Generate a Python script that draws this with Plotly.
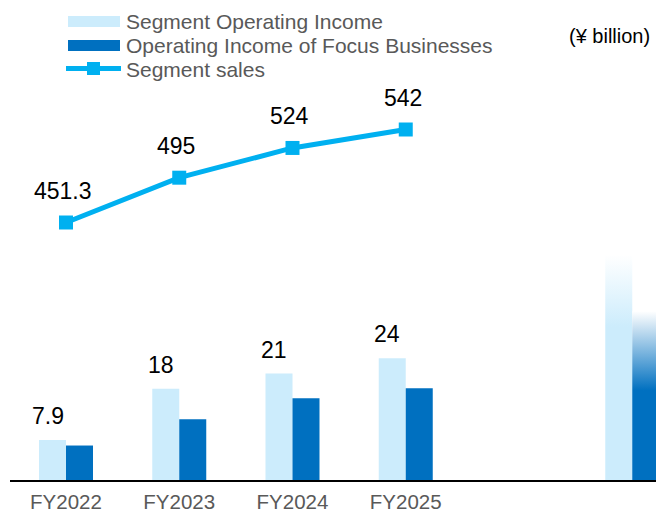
import plotly.graph_objects as go

# ---- data ----
years = ["FY2022", "FY2023", "FY2024", "FY2025"]
segment_oi = [7.9, 18, 21, 24]          # Segment Operating Income
focus_oi = [6.8, 12.0, 16.1, 18.1]      # Operating Income of Focus Businesses
sales = [451.3, 495, 524, 542]          # Segment sales
target_idx = 5                          # faded target column (unlabelled)
target_segment_oi = 44.4
target_focus_oi = 33.3

LIGHT = "#CCECFC"
DARK = "#0070C0"
LINE = "#00B0F0"
GRAY = "#595959"
FONT = "Arial, Liberation Sans, sans-serif"

W, H = 656, 513
ML, MR, MT, MB = 10, 0, 0, 33
PW, PH = W - ML - MR, H - MT - MB
BW = 0.2384  # bar width in category units

idx = list(range(len(years)))

def px_x(p):
    return (p - ML) / PW

def px_y(p):
    return (H - MB - p) / PH

fig = go.Figure()

fig.add_trace(go.Bar(
    x=idx, y=segment_oi, width=BW, offset=-BW, name="Segment Operating Income",
    marker=dict(color=LIGHT, line=dict(width=0)), showlegend=False))
fig.add_trace(go.Bar(
    x=idx, y=focus_oi, width=BW, offset=0, name="Operating Income of Focus Businesses",
    marker=dict(color=DARK, line=dict(width=0)), showlegend=False))

# faded target columns drawn with vertical gradient fills
fig.add_trace(go.Scatter(
    x=[target_idx - BW, target_idx - BW, target_idx, target_idx, target_idx - BW],
    y=[0, target_segment_oi, target_segment_oi, 0, 0],
    mode="none", fill="toself", showlegend=False, hoverinfo="skip",
    fillgradient=dict(type="vertical",
                      colorscale=[[0, LIGHT], [0.68, LIGHT], [1, "rgba(255,255,255,1)"]])))
fig.add_trace(go.Scatter(
    x=[target_idx, target_idx, target_idx + BW, target_idx + BW, target_idx],
    y=[0, target_focus_oi, target_focus_oi, 0, 0],
    mode="none", fill="toself", showlegend=False, hoverinfo="skip",
    fillgradient=dict(type="vertical",
                      colorscale=[[0, DARK], [0.53, DARK], [1, "rgba(255,255,255,1)"]])))

fig.add_trace(go.Scatter(
    x=idx, y=sales, yaxis="y2", mode="lines+markers", name="Segment sales",
    line=dict(color=LINE, width=5),
    marker=dict(symbol="square", size=14, color=LINE), showlegend=False))

annotations = []
for i, v in zip(idx, segment_oi):
    annotations.append(dict(x=i - BW / 2, y=v, xref="x", yref="y", text=f"{v:g}",
                            showarrow=False, yanchor="middle", yshift=24, xshift=-5,
                            font=dict(family=FONT, size=23, color="#000000")))
for i, v in zip(idx, sales):
    annotations.append(dict(x=i, y=v, xref="x", yref="y2", text=f"{v:g}",
                            showarrow=False, yanchor="middle", yshift=32, xshift=-3,
                            font=dict(family=FONT, size=23, color="#000000")))

# legend (drawn manually to match wide swatches)
legend_items = ["Segment Operating Income", "Operating Income of Focus Businesses", "Segment sales"]
row_y = [21.5, 45.5, 69]
for name, ry in zip(legend_items, row_y):
    annotations.append(dict(x=px_x(124), y=px_y(ry), xref="paper", yref="paper", text=name,
                            showarrow=False, xanchor="left", yanchor="middle",
                            font=dict(family=FONT, size=21, color=GRAY)))
annotations.append(dict(x=px_x(652), y=px_y(36), xref="paper", yref="paper", text="(¥ billion)",
                        showarrow=False, xanchor="right", yanchor="middle",
                        font=dict(family=FONT, size=20, color="#000000")))

shapes = [
    dict(type="rect", xref="paper", yref="paper", x0=px_x(68), x1=px_x(120),
         y0=px_y(27), y1=px_y(16), fillcolor=LIGHT, line=dict(width=0)),
    dict(type="rect", xref="paper", yref="paper", x0=px_x(68), x1=px_x(120),
         y0=px_y(51), y1=px_y(40), fillcolor=DARK, line=dict(width=0)),
    dict(type="line", xref="paper", yref="paper", x0=px_x(66), x1=px_x(121),
         y0=px_y(68.5), y1=px_y(68.5), line=dict(color=LINE, width=5)),
    dict(type="rect", xref="paper", yref="paper", x0=px_x(87), x1=px_x(100),
         y0=px_y(75), y1=px_y(62), fillcolor=LINE, line=dict(width=0)),
]

fig.update_layout(
    width=W, height=H, autosize=False,
    margin=dict(l=ML, r=MR, t=MT, b=MB, pad=0),
    paper_bgcolor="white", plot_bgcolor="white",
    barmode="overlay",
    showlegend=False,
    font=dict(family=FONT),
    xaxis=dict(range=[(10 - 66) / 113.25, (656 - 66) / 113.25],
               tickvals=idx, ticktext=years, showgrid=False, zeroline=False,
               showline=True, linecolor="#000000", linewidth=2, ticks="",
               ticklabelstandoff=2, automargin=False,
               tickfont=dict(family=FONT, size=20.5, color=GRAY)),
    yaxis=dict(range=[0, PH / 5.07], visible=False, showgrid=False, zeroline=False,
               automargin=False),
    yaxis2=dict(range=[451.3 - (480 - 222.5) / 1.0254, 451.3 + 222.5 / 1.0254],
                overlaying="y", side="right", visible=False, showgrid=False, zeroline=False,
                automargin=False),
    annotations=annotations,
    shapes=shapes,
)

fig.write_html("out.html", config={"displayModeBar": False},
               post_script="document.body.style.margin='0';document.body.style.overflow='hidden';")
